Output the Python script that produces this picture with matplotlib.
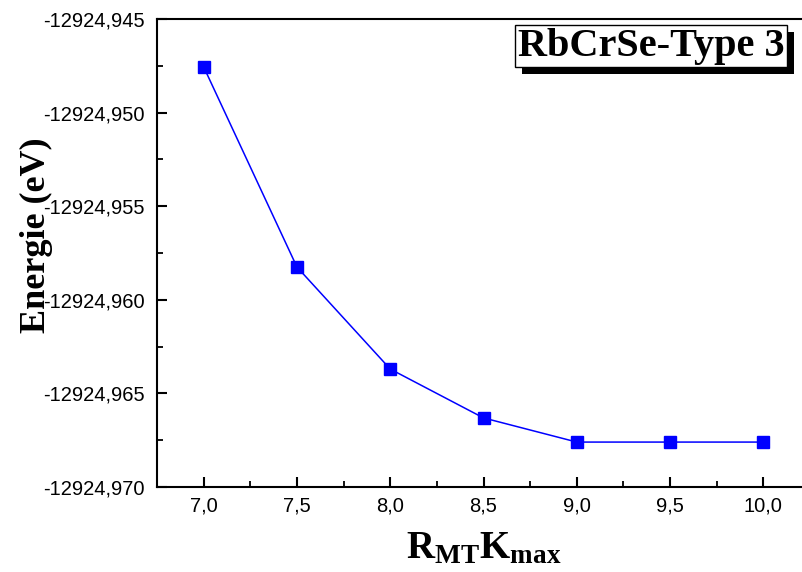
import matplotlib
matplotlib.use("Agg")
import matplotlib.pyplot as plt
import matplotlib.patheffects as pe
from matplotlib.ticker import MultipleLocator, FuncFormatter

# data
rmt_kmax = [7.0, 7.5, 8.0, 8.5, 9.0, 9.5, 10.0]
energie = [-12924.94756, -12924.95825, -12924.96370, -12924.96631,
           -12924.96760, -12924.96760, -12924.96760]
x_ticks = [7.0, 7.5, 8.0, 8.5, 9.0, 9.5, 10.0]
y_ticks = [-12924.970, -12924.965, -12924.960, -12924.955, -12924.950, -12924.945]

plt.rcParams['mathtext.fontset'] = 'custom'
plt.rcParams['mathtext.bf'] = 'Liberation Serif:bold'
plt.rcParams['mathtext.rm'] = 'Liberation Serif:bold'

fig = plt.figure(figsize=(8.02, 5.72), dpi=100)
ax = fig.add_axes([0.1958, 0.1486, 0.8142, 0.8182])

ax.plot(rmt_kmax, energie, '-', color='#0000ff', lw=1.1)
ax.plot(rmt_kmax, energie, 's', color='#0000ff', ms=8.5, lw=0)

ax.set_xlim(6.75, 10.25)
ax.set_ylim(-12924.970, -12924.945)
ax.set_xticks(x_ticks)
ax.set_yticks(y_ticks)
ax.xaxis.set_minor_locator(MultipleLocator(0.25))
ax.yaxis.set_minor_locator(MultipleLocator(0.0025))

comma = lambda v, n: ('%.*f' % (n, v)).replace('.', ',')
ax.xaxis.set_major_formatter(FuncFormatter(lambda v, p: comma(v, 1)))
ax.yaxis.set_major_formatter(FuncFormatter(lambda v, p: comma(v, 3)))

for s in ax.spines.values():
    s.set_linewidth(1.5)
ax.spines['right'].set_visible(False)

ax.tick_params(which='major', direction='in', length=7, width=1.5,
               labelsize=14.5, pad=9)
ax.tick_params(axis='x', pad=7)
ax.tick_params(which='minor', direction='in', length=4, width=1.3)
ax.tick_params(axis='both', top=False, right=False)
for lab in ax.get_xticklabels() + ax.get_yticklabels():
    lab.set_fontfamily('Liberation Sans')

ax.set_ylabel('Energie (eV)', fontsize=26, fontweight='bold',
              fontfamily='Liberation Serif')
ax.yaxis.set_label_coords(-0.16, 0.538)
ax.set_xlabel(r'$\mathbf{R_{MT}K_{max}}$', fontsize=28)
ax.xaxis.set_label_coords(0.5, -0.088)

t = ax.text(0.7565, 0.942, 'RbCrSe-Type 3', transform=ax.transAxes,
            ha='center', va='center', fontsize=29, fontweight='bold',
            fontfamily='Liberation Serif',
            bbox=dict(boxstyle='square,pad=0.07', fc='white', ec='black', lw=1))
t.get_bbox_patch().set_path_effects([
    pe.SimplePatchShadow(offset=(5, -5), shadow_rgbFace='black', alpha=1),
    pe.Normal()])

fig.savefig('out.png', dpi=100)
